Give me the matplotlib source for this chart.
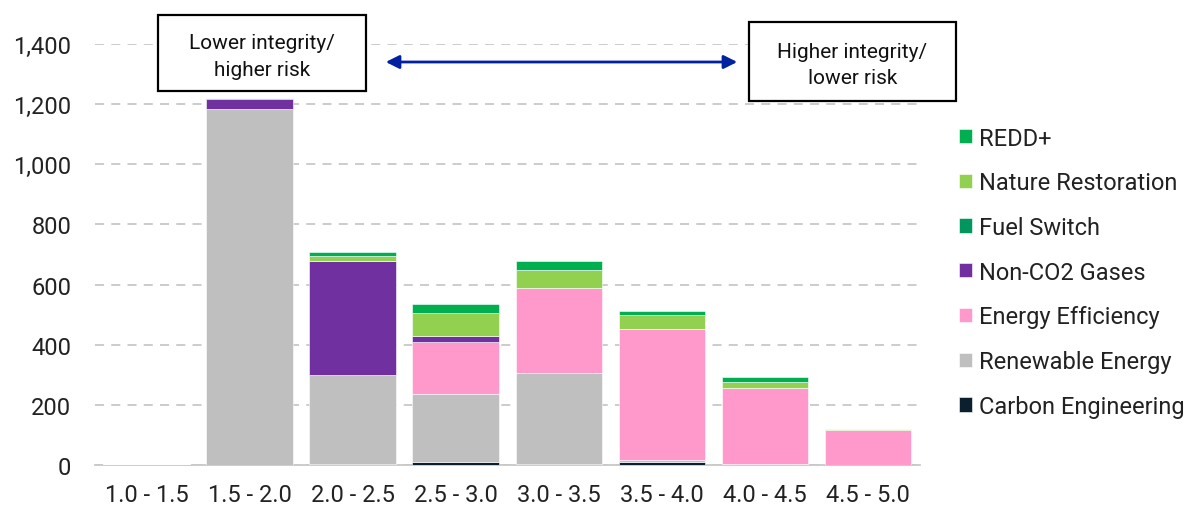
import matplotlib
matplotlib.use("Agg")

import matplotlib.pyplot as plt
import numpy as np

plt.rcParams["font.family"] = ["Roboto", "DejaVu Sans"]

CATEGORIES = ["1.0 - 1.5", "1.5 - 2.0", "2.0 - 2.5", "2.5 - 3.0",
              "3.0 - 3.5", "3.5 - 4.0", "4.0 - 4.5", "4.5 - 5.0"]

# stacked from the bottom up
carbon_engineering = [0, 0, 3, 9, 3, 11, 0, 0]
renewable_energy = [2, 1183, 297, 226, 302, 5, 2, 1]
energy_efficiency = [0, 0, 0, 175, 285, 437, 253, 117]
non_co2_gases = [0, 34, 378, 20, 0, 0, 0, 0]
fuel_switch = [0, 3, 0, 0, 0, 0, 0, 0]
nature_restoration = [0, 0, 18, 76, 57, 47, 21, 3]
redd_plus = [2, 0, 14, 29, 31, 12, 16, 0]

SERIES = [
    ("Carbon Engineering", carbon_engineering, "#0c1f2e"),
    ("Renewable Energy", renewable_energy, "#bfbfbf"),
    ("Energy Efficiency", energy_efficiency, "#ff99cc"),
    ("Non-CO2 Gases", non_co2_gases, "#7030a0"),
    ("Fuel Switch", fuel_switch, "#00965e"),
    ("Nature Restoration", nature_restoration, "#92d050"),
    ("REDD+", redd_plus, "#00b050"),
]

fig = plt.figure(figsize=(11.88, 5.06), dpi=100)
ax = fig.add_axes([0.080, 0.079, 0.694, 0.832])

x = np.arange(len(CATEGORIES))
bottom = np.zeros(len(CATEGORIES))
handles = []
for name, vals, color in SERIES:
    vals = np.array(vals, dtype=float)
    h = ax.bar(x, vals, 0.84, bottom=bottom, color=color,
               edgecolor="white", linewidth=0.4, label=name, zorder=3)
    handles.append(h)
    bottom += vals

ax.set_xlim(-0.5, 7.5)
ax.set_ylim(0, 1400)
ax.set_yticks(np.arange(0, 1401, 200))
ax.yaxis.set_major_formatter(matplotlib.ticker.StrMethodFormatter("{x:,.0f}"))
ax.set_xticks(x)
ax.set_xticklabels(CATEGORIES)
ax.tick_params(axis="both", length=0, labelsize=17, colors="#222222")
ax.tick_params(axis="x", pad=13)
ax.tick_params(axis="y", pad=17)

ax.grid(axis="y", color="#c8c8c8", linestyle=(0, (5, 4)), linewidth=1.3, zorder=0)
for side in ["top", "right", "left"]:
    ax.spines[side].set_visible(False)
ax.spines["bottom"].set_color("#c8c8c8")
ax.spines["bottom"].set_linewidth(1.3)

leg = fig.legend(handles[::-1], [s[0] for s in SERIES][::-1],
                 loc="upper left", bbox_to_anchor=(0.789, 0.79),
                 frameon=False, fontsize=17, handlelength=0.55, handleheight=0.55,
                 handletextpad=0.3, labelspacing=0.92)
for t in leg.get_texts():
    t.set_color("#222222")

# integrity boxes and arrow between them
def fig_box(x0, y0, x1, y1, text):
    W, H = 1188, 506
    rect = matplotlib.patches.Rectangle((x0 / W, 1 - y1 / H), (x1 - x0) / W, (y1 - y0) / H,
                                        transform=fig.transFigure, facecolor="white",
                                        edgecolor="black", linewidth=1.6, zorder=5)
    fig.add_artist(rect)
    fig.text((x0 + x1) / 2 / W, 1 - ((y0 + y1) / 2 + 3) / H, text, ha="center", va="center",
             fontsize=15, color="#111111", linespacing=1.5, zorder=6)

fig_box(158, 16, 366, 92, "Lower integrity/\nhigher risk")
fig_box(749, 23, 956, 102, "Higher integrity/\nlower risk")

arrow = matplotlib.patches.FancyArrowPatch((383 / 1188, 1 - 63 / 506), (740 / 1188, 1 - 63 / 506),
                                           transform=fig.transFigure, arrowstyle="<|-|>",
                                           mutation_scale=20, color="#0022a0", linewidth=2)
fig.add_artist(arrow)

fig.savefig("out.png", dpi=100)
